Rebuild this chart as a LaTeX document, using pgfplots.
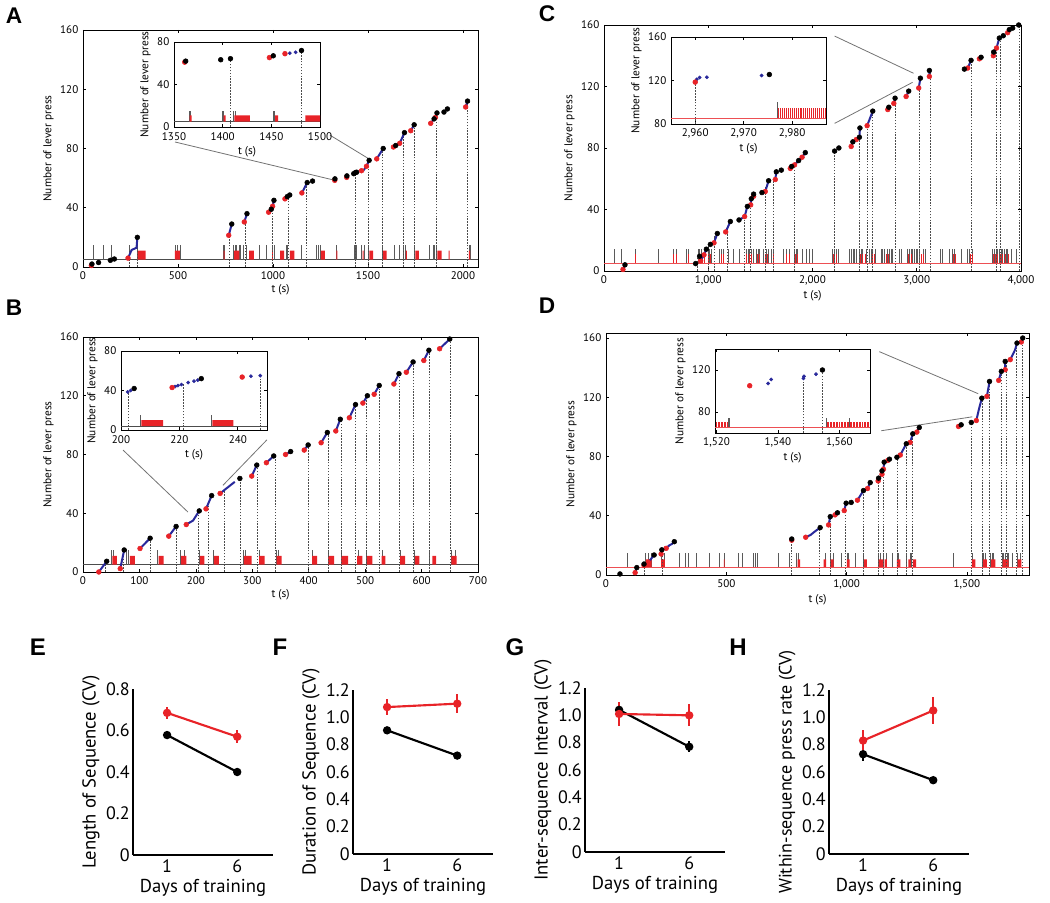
\documentclass[border=0pt]{standalone}
\usepackage{pgfplots}
\pgfplotsset{compat=1.18}
\usepackage{fontspec}
\setmainfont{PT Sans}
\newfontfamily\letterfont{Liberation Sans}
\definecolor{myred}{RGB}{232,35,40}
\definecolor{myblue}{RGB}{40,40,155}
\definecolor{rastc}{RGB}{90,90,90}
\pgfplotsset{
 /pgf/number format/assume math mode=true,
 mainax/.style={scale only axis, anchor=south west, axis line style={line width=0.7pt}, tick align=inside, major tick length=2.5pt, tick style={line width=0.5pt, black}, ticklabel style={font=\fontsize{8.3}{9}\selectfont}, label style={font=\fontsize{8.5}{9.5}\selectfont}, xlabel={t (s)}, ylabel={Number of lever press}, ymin=0, ytick={0,40,80,120,160}, xlabel style={yshift=3pt}, ylabel style={yshift=-2pt}},
 inset/.style={mainax, axis background/.style={fill=white}},
 rast/.style={rastc, no markers, line width=0.5pt, quiver={u=0,v=#1}},
 redtk/.style={myred, no markers, line width=0.5pt, quiver={u=0,v=#1}},
 rbar/.style={draw=none, fill=myred, unbounded coords=jump, no markers},
 seq/.style={myblue, line width=1.5pt, no markers, unbounded coords=jump},
 rdot/.style={only marks, mark=*, mark size=1.8pt, mark options={fill=myred, draw=myred}},
 bdot/.style={only marks, mark=*, mark size=1.8pt, mark options={fill=black, draw=black}},
 udot/.style={only marks, mark=*, mark size=1.2pt, mark options={fill=myblue, draw=myblue}},
 dash/.style={ycomb, no markers, black!70, line width=0.4pt, dash pattern=on 1.2pt off 1pt},
 base/.style={no markers, line width=0.6pt},
 conn/.style={no markers, black!55, line width=0.6pt},
 cvax/.style={scale only axis, anchor=south west, axis x line=bottom, axis y line=left, axis line style={line width=1.6pt, -}, xmin=-1.43, xmax=8.55, ymin=0, xtick={1,6}, major tick length=0pt, ticklabel style={font=\fontsize{13.5}{14}\selectfont}, label style={font=\fontsize{14}{15}\selectfont}, xlabel={Days of training}, width=105pt, clip=false, xlabel style={yshift=2pt}, ylabel style={yshift=-2pt}, yticklabel style={xshift=1pt}},
 cvred/.style={myred, line width=1.6pt, mark=*, mark size=2.3pt, error bars/.cd, y dir=both, y explicit, error bar style={line width=1.6pt}, error mark=none},
 cvblk/.style={black, line width=1.6pt, mark=*, mark size=2.3pt, error bars/.cd, y dir=both, y explicit, error bar style={line width=1.6pt}, error mark=none},
}
\begin{document}
\begin{tikzpicture}[x=0.75pt,y=0.75pt]
\path[use as bounding box] (0,0) rectangle (1050,903);

% ---------------- Panel A ----------------
\begin{axis}[mainax, at={(62.25pt,477pt)}, width=296.25pt, height=177.75pt, xmin=0, xmax=2079, ymax=160, xtick={0,500,1000,1500,2000}, /pgf/number format/1000 sep={}]
\addplot[base, black!70] coordinates {(0,5) (2079,5)};
\addplot[rast=10] table[row sep=\\, y expr=5]{x\\53\\105\\147\\245\\284\\485\\494\\511\\736\\743\\792\\800\\809\\823\\830\\844\\858\\928\\967\\998\\1005\\1068\\1075\\1151\\1229\\1238\\1247\\1334\\1426\\1432\\1440\\1466\\1480\\1502\\1576\\1637\\1667\\1685\\1694\\1743\\1825\\1842\\1851\\1860\\2031\\2038\\};
\addplot[rbar] table[row sep=\\]{x y\\
287 5\\330 5\\330 11\\287 11\\nan nan\\
484 5\\510 5\\510 11\\484 11\\nan nan\\
740 5\\745 5\\745 11\\740 11\\nan nan\\
795 5\\823 5\\823 11\\795 11\\nan nan\\
875 5\\900 5\\900 11\\875 11\\nan nan\\
995 5\\1000 5\\1000 11\\995 11\\nan nan\\
1037 5\\1058 5\\1058 11\\1037 11\\nan nan\\
1089 5\\1112 5\\1112 11\\1089 11\\nan nan\\
1252 5\\1273 5\\1273 11\\1252 11\\nan nan\\
1334 5\\1339 5\\1339 11\\1334 11\\nan nan\\
1472 5\\1477 5\\1477 11\\1472 11\\nan nan\\
1507 5\\1527 5\\1527 11\\1507 11\\nan nan\\
1580 5\\1598 5\\1598 11\\1580 11\\nan nan\\
1700 5\\1705 5\\1705 11\\1700 11\\nan nan\\
1750 5\\1768 5\\1768 11\\1750 11\\nan nan\\
1865 5\\1888 5\\1888 11\\1865 11\\nan nan\\
1925 5\\1930 5\\1930 11\\1925 11\\nan nan\\
2031 5\\2037 5\\2037 11\\2031 11\\};
\addplot[dash] table[row sep=\\]{x y\\245 11\\284 20\\770 21\\856 30\\998 40\\1080 48\\1173 55\\1432 63.5\\1502 72\\1576 80\\1688 90\\1741 95\\1860 103\\2021 111\\};
\addplot[seq] table[row sep=\\]{x y\\
237 6\\256 11.5\\282 13\\286 20\\nan nan\\
767 21.4\\783 29\\nan nan\\
849 30.4\\863 36\\nan nan\\
977 37\\991 39\\998 41\\1005 45\\nan nan\\
1063 46\\1088 48.6\\nan nan\\
1152 50\\1180 57\\nan nan\\
1475 65\\1492 68\\1506 72\\nan nan\\
1546 73\\1580 80\\nan nan\\
1634 81\\1646 82\\nan nan\\
1667 83.5\\1692 90.7\\nan nan\\
1725 92\\1743 96\\nan nan\\
1830 97\\1848 100\\1863 104\\nan nan\\
2014 108\\2024 112\\};
\addplot[rdot] table[row sep=\\]{x y\\44 1\\237 6\\767 21.4\\849 30.4\\977 37\\998 41\\1063 46\\1152 50\\1325 58.5\\1388 60.5\\1466 65\\1492 68\\1546 73\\1634 81\\1667 83.5\\1725 92\\1830 97\\1855 101\\2014 108\\};
\addplot[bdot] table[row sep=\\]{x y\\47 2\\82 3\\144 4.5\\165 5.4\\286 20\\783 29\\863 36\\991 39\\1005 45\\1075 47.5\\1088 48.6\\1180 57\\1208 58\\1326 59.5\\1389 61.5\\1425 63\\1434 63.7\\1440 64\\1506 72\\1580 80\\1646 82\\1692 90.7\\1743 96\\1848 100\\1863 104\\1900 104.6\\1918 106.7\\2024 112\\};
\addplot[conn] coordinates {(484,84.4) (1310,59)};
\addplot[conn] coordinates {(1300,89) (1505,73)};
\end{axis}

% inset A
\begin{axis}[inset, at={(130.5pt,582pt)}, width=109.5pt, height=63.75pt, xmin=1350, xmax=1500, ymin=0, ymax=80, xtick={1350,1400,1450,1500}, ytick={0,40,80}, /pgf/number format/1000 sep={}, xticklabel style={yshift=-1pt}]
\addplot[base, black!70] coordinates {(1350,5) (1500,5)};
\addplot[rast=10] table[row sep=\\, y expr=5]{x\\1366\\1367\\1400\\1401\\1411\\1413\\1452\\1453\\};
\addplot[rbar] table[row sep=\\]{x y\\
1366 5\\1368 5\\1368 11\\1366 11\\nan nan\\
1401 5\\1403 5\\1403 11\\1401 11\\nan nan\\
1412 5\\1428 5\\1428 11\\1412 11\\nan nan\\
1454 5\\1457 5\\1457 11\\1454 11\\nan nan\\
1485 5\\1500 5\\1500 11\\1485 11\\};
\addplot[dash] table[row sep=\\]{x y\\1408 64\\1481 72\\};
\addplot[udot] table[row sep=\\]{x y\\1469 69.5\\1475 70.3\\};
\addplot[rdot] table[row sep=\\]{x y\\1361 61\\1448 65.3\\1464 69\\};
\addplot[bdot] table[row sep=\\]{x y\\1362 62\\1398 63.3\\1408 64.3\\1452 67\\1481 72\\};
\end{axis}

% ---------------- Panel B ----------------
\begin{axis}[mainax, at={(62.25pt,248.25pt)}, width=296.25pt, height=176.25pt, xmin=0, xmax=700, ymax=160, xtick={0,100,...,700}]
\addplot[base, black!70] coordinates {(0,5) (700,5)};
\addplot[rast=10] table[row sep=\\, y expr=5]{x\\50\\53\\77\\81\\132\\172\\180\\206\\231\\284\\288\\313\\343\\347\\406\\435\\458\\488\\503\\530\\562\\588\\614\\652\\659\\};
\addplot[rbar] table[row sep=\\]{x y\\
52 5\\60 5\\60 11\\52 11\\nan nan\\
83 5\\92 5\\92 11\\83 11\\nan nan\\
134 5\\143 5\\143 11\\134 11\\nan nan\\
174 5\\183 5\\183 11\\174 11\\nan nan\\
207 5\\215 5\\215 11\\207 11\\nan nan\\
232 5\\241 5\\241 11\\232 11\\nan nan\\
285 5\\299 5\\299 11\\285 11\\nan nan\\
312 5\\322 5\\322 11\\312 11\\nan nan\\
343 5\\352 5\\352 11\\343 11\\nan nan\\
406 5\\415 5\\415 11\\406 11\\nan nan\\
435 5\\445 5\\445 11\\435 11\\nan nan\\
458 5\\470 5\\470 11\\458 11\\nan nan\\
486 5\\495 5\\495 11\\486 11\\nan nan\\
503 5\\513 5\\513 11\\503 11\\nan nan\\
529 5\\536 5\\536 11\\529 11\\nan nan\\
562 5\\571 5\\571 11\\562 11\\nan nan\\
588 5\\596 5\\596 11\\588 11\\nan nan\\
619 5\\626 5\\626 11\\619 11\\nan nan\\
653 5\\662 5\\662 11\\653 11\\};
\addplot[dash] table[row sep=\\]{x y\\40 7\\72 14\\119 23\\165 31\\204 41\\222 45\\250 55\\278 63\\308 72\\340 79\\399 86\\434 94\\457 103\\483 113\\502 119\\525 126\\561 134\\585 142\\614 150\\650 158\\};
\addplot[seq] table[row sep=\\]{x y\\
28 0\\42 7.3\\nan nan\\
66 2.3\\73 15\\nan nan\\
101 16\\119 23\\nan nan\\
152 24.4\\165 31\\nan nan\\
183 32.3\\195 35\\200 38\\206 41.6\\nan nan\\
218 43\\228 52\\nan nan\\
243 53.5\\269 61.4\\nan nan\\
299 65.3\\308 72.8\\nan nan\\
325 74.4\\338 79\\nan nan\\
359 80\\368 82\\nan nan\\
392 83\\399 86.5\\nan nan\\
422 88\\433 95\\nan nan\\
448 96\\456 104\\nan nan\\
472 105\\483 114\\nan nan\\
496 115\\504 120\\nan nan\\
516 121\\525 127\\nan nan\\
551 128\\560 135\\nan nan\\
573 136\\585 143\\nan nan\\
604 144\\613 151\\nan nan\\
632 152\\650 158.6\\};
\addplot[rdot] table[row sep=\\]{x y\\28 0\\66 2.3\\101 16\\152 24.4\\183 32.3\\218 43\\243 53.5\\299 65.3\\325 74.4\\359 80\\392 83\\422 88\\448 96\\472 105\\496 115\\516 121\\551 128\\573 136\\604 144\\632 152\\};
\addplot[bdot] table[row sep=\\]{x y\\42 7.3\\73 15\\119 23\\165 31\\206 41.6\\228 52\\278 63.7\\308 72.8\\338 79\\368 82\\399 86.5\\433 95\\456 104\\483 114\\504 120\\525 127\\560 135\\585 143\\613 151\\650 158.6\\};
\addplot[conn] coordinates {(71,83) (186,40.8)};
\addplot[conn] coordinates {(326,90) (248,59)};
\end{axis}

% inset B
\begin{axis}[inset, at={(90.75pt,354.75pt)}, width=109.5pt, height=59.25pt, xmin=200, xmax=250, ymin=0, ymax=80, xtick={200,220,240}, ytick={0,40,80}, xticklabel style={yshift=-1pt}]
\addplot[base, black!70] coordinates {(200,4) (250,4)};
\addplot[rast=11] table[row sep=\\, y expr=4]{x\\206.5\\230.8\\};
\addplot[rbar] table[row sep=\\]{x y\\
207 4\\214.4 4\\214.4 10\\207 10\\nan nan\\
231.3 4\\238.5 4\\238.5 10\\231.3 10\\};
\addplot[dash] table[row sep=\\]{x y\\202.5 38\\221.3 47\\247.7 55\\};
\addplot[udot] table[row sep=\\]{x y\\202.3 38.5\\203.3 40\\218.5 44\\219.5 45\\220.7 46\\223 48\\225 49.5\\226.3 50.5\\244.5 54.5\\247.7 55\\};
\addplot[rdot] table[row sep=\\]{x y\\217.5 43\\241.5 53.6\\};
\addplot[bdot] table[row sep=\\]{x y\\204.5 42\\227.5 52\\};
\end{axis}

% ---------------- Panel C ----------------
\begin{axis}[mainax, at={(453pt,474pt)}, width=312.75pt, height=184.5pt, xmin=0, xmax=4000, ymax=160, xtick={0,1000,...,4000}]
\addplot[rast=9.5] table[row sep=\\, y expr=5]{x\\96\\166\\304\\518\\668\\693\\789\\805\\901\\917\\933\\997\\1013\\1029\\1109\\1125\\1141\\1188\\1236\\1300\\1364\\1380\\1396\\1412\\1428\\1460\\1476\\1492\\1524\\1556\\1572\\1604\\1620\\1716\\1748\\1780\\1827\\1843\\1859\\1907\\1939\\1971\\2003\\2195\\2211\\2227\\2243\\2355\\2371\\2387\\2403\\2419\\2450\\2466\\2482\\2514\\2546\\2562\\2578\\2604\\2658\\2674\\2690\\2722\\2738\\2754\\2770\\2834\\2850\\2914\\2930\\2946\\2962\\2978\\2994\\3010\\3026\\3064\\3083\\3224\\3249\\3313\\3339\\3361\\3425\\3489\\3505\\3530\\3728\\3744\\3760\\3776\\3792\\3808\\3824\\3840\\3856\\3872\\3904\\3952\\};
\addplot[redtk=6] table[row sep=\\, y expr=5]{x\\304\\668\\693\\805\\917\\942\\965\\997\\1019\\1125\\1147\\1364\\1390\\1412\\1466\\1492\\1546\\1565\\1626\\1748\\1773\\1837\\1859\\2204\\2227\\2457\\2482\\2502\\2578\\2597\\2712\\2732\\2923\\2946\\3042\\3064\\3351\\3371\\3511\\3530\\3735\\3754\\3776\\3799\\3824\\3850\\3875\\};
\addplot[base, myred!80] coordinates {(0,5) (4000,5)};
\addplot[dash] table[row sep=\\]{x y\\895 9\\997 17\\1061 23\\1179 28\\1348 35\\1403 45\\1546 55\\1626 60\\1827 70\\2211 78\\2450 90\\2530 95\\2572 103\\2792 112\\3026 122\\3128 129\\3527 137\\3760 145\\3799 151\\3984 160\\};
\addplot[seq] table[row sep=\\]{x y\\
182 1\\201 4\\nan nan\\
927 6.6\\959 10.5\\982 14.2\\nan nan\\
1055 18.3\\1087 24.4\\nan nan\\
1167 25.4\\1212 32.2\\nan nan\\
1295 33.2\\1349 35.4\\1375 42\\1407 43\\1413 47\\1435 48.6\\1435 50\\nan nan\\
1547 51.7\\1579 58.7\\nan nan\\
1643 59.5\\1653 64.5\\nan nan\\
1787 66.7\\1828 69\\1867 71.8\\1900 74\\1931 77\\nan nan\\
2371 81\\2387 84\\2420 85.5\\2450 87\\2455 93\\nan nan\\
2524 94.5\\2578 104\\nan nan\\
2722 105\\2732 106.5\\nan nan\\
2780 109\\2792 112.4\\nan nan\\
2898 113.5\\2923 117\\nan nan\\
3019 119\\3035 125.4\\nan nan\\
3121 126.5\\3121 130.4\\nan nan\\
3489 132\\3521 137\\nan nan\\
3601 138\\3617 139\\nan nan\\
3735 140\\3738 142.4\\3765 145\\3792 151.5\\3830 153\\nan nan\\
3872 155\\3888 157\\};
\addplot[rdot] table[row sep=\\]{x y\\182 1\\927 6.6\\959 10.5\\1055 18.3\\1167 25.4\\1349 35.4\\1407 43\\1435 48.6\\1547 51.7\\1643 59.5\\1787 66.7\\1828 69\\1900 74\\2371 81\\2420 85.5\\2524 94.5\\2722 105\\2780 109\\2898 113.5\\3019 119\\3121 126.5\\3489 132\\3601 138\\3735 140\\3765 145\\3872 155\\};
\addplot[bdot] table[row sep=\\]{x y\\201 4\\879 4.8\\917 9.6\\982 14.2\\1020 17.3\\1087 24.4\\1212 32.2\\1295 33.2\\1375 42\\1413 47\\1435 50\\1515 51\\1579 58.7\\1653 64.5\\1701 65.6\\1800 68\\1867 71.8\\1931 77\\2212 78\\2253 80\\2387 84\\2450 87\\2455 93\\2578 104\\2732 106.5\\2792 112.4\\2923 117\\3035 125.4\\3121 130.4\\3457 131.3\\3521 137\\3617 139\\3738 142.4\\3792 151.5\\3830 153\\3888 157\\3920 158\\3978 160\\};
\addplot[conn] coordinates {(2212,152.8) (2969,128.6)};
\addplot[conn] coordinates {(2212,96) (2960,122.7)};
\end{axis}

% inset C
\begin{axis}[inset, at={(503.25pt,584.25pt)}, width=116.25pt, height=65.25pt, xmin=2955, xmax=2987, ymin=80, ymax=160, xtick={2960,2970,2980}, ytick={80,120,160}]
\addplot[redtk=9.5] table[row sep=\\, y expr=85.5]{x\\2977.2\\2977.6\\2978.0\\2978.4\\2978.8\\2979.2\\2979.6\\2980.0\\2980.4\\2980.8\\2981.2\\2981.6\\2982.0\\2982.4\\2982.8\\2983.2\\2983.6\\2984.0\\2984.4\\2984.8\\2985.2\\2985.6\\2986.0\\2986.4\\2986.8\\};
\addplot[rast=15] table[row sep=\\, y expr=85.5]{x\\2977.0\\};
\addplot[base, myred!80] coordinates {(2955,85.5) (2987,85.5)};
\addplot[dash] table[row sep=\\]{x y\\2960 118\\};
\addplot[udot] table[row sep=\\]{x y\\2960.3 121\\2960.9 122.7\\2962.4 123\\2973.7 124.6\\};
\addplot[rdot] table[row sep=\\]{x y\\2960 118.5\\};
\addplot[bdot] table[row sep=\\]{x y\\2975.3 125.5\\};
\end{axis}

% ---------------- Panel D ----------------
\begin{axis}[mainax, at={(454.5pt,246pt)}, width=317.25pt, height=181.5pt, xmin=0, xmax=1758, ymax=163.4, xtick={0,500,1000,1500}]
\addplot[rast=9.6] table[row sep=\\, y expr=5]{x\\89\\162\\176\\190\\229\\241\\305\\331\\342\\374\\430\\470\\491\\550\\568\\613\\620\\629\\717\\762\\793\\800\\911\\934\\946\\980\\1001\\1008\\1036\\1070\\1133\\1142\\1153\\1165\\1188\\1209\\1216\\1250\\1264\\1271\\1445\\1521\\1562\\1569\\1576\\1597\\1604\\1611\\1646\\1652\\1659\\1666\\1673\\1687\\1708\\1722\\};
\addplot[rbar] table[row sep=\\]{x y\\
166 5\\190 5\\190 10.6\\166 10.6\\nan nan\\
229 5\\245 5\\245 10.6\\229 10.6\\nan nan\\
490 5\\493 5\\493 10.6\\490 10.6\\nan nan\\
796 5\\807 5\\807 10.6\\796 10.6\\nan nan\\
904 5\\915 5\\915 10.6\\904 10.6\\nan nan\\
934 5\\946 5\\946 10.6\\934 10.6\\nan nan\\
1001 5\\1012 5\\1012 10.6\\1001 10.6\\nan nan\\
1073 5\\1084 5\\1084 10.6\\1073 10.6\\nan nan\\
1133 5\\1153 5\\1153 10.6\\1133 10.6\\nan nan\\
1158 5\\1167 5\\1167 10.6\\1158 10.6\\nan nan\\
1209 5\\1223 5\\1223 10.6\\1209 10.6\\nan nan\\
1257 5\\1267 5\\1267 10.6\\1257 10.6\\nan nan\\
1275 5\\1289 5\\1289 10.6\\1275 10.6\\nan nan\\
1521 5\\1535 5\\1535 10.6\\1521 10.6\\nan nan\\
1567 5\\1583 5\\1583 10.6\\1567 10.6\\nan nan\\
1601 5\\1618 5\\1618 10.6\\1601 10.6\\nan nan\\
1648 5\\1673 5\\1673 10.6\\1648 10.6\\nan nan\\
1711 5\\1726 5\\1726 10.6\\1711 10.6\\};
\addplot[base, myred!80] coordinates {(0,5) (1758,5)};
\addplot[dash] table[row sep=\\]{x y\\158 7\\232 16\\772 23\\886 31\\932 38\\994 46\\1070 56\\1133 64\\1151 74\\1209 79\\1246 87\\1271 93\\1518 102\\1562 118\\1594 129\\1643 136\\1662 143\\1705 155\\1729 159\\};
\addplot[seq] table[row sep=\\]{x y\\
121 1.6\\128 5\\nan nan\\
176 8.6\\200 13.5\\nan nan\\
250 18\\263 20\\275 21\\284 22.5\\nan nan\\
830 25.5\\850 27\\865 29\\890 32\\nan nan\\
925 33.8\\932 39.4\\nan nan\\
990 43.5\\998 48.5\\nan nan\\
1045 50.5\\1070 57\\nan nan\\
1087 58.4\\1098 62.4\\nan nan\\
1147 68\\1147 70.3\\nan nan\\
1153 71.4\\1156 76.2\\nan nan\\
1223 81\\1248 88.6\\nan nan\\
1264 89.5\\1275 95.3\\nan nan\\
1292 96.5\\1302 99.6\\nan nan\\
1539 104.3\\1550 112\\1562 119.4\\nan nan\\
1583 120.6\\1594 130.7\\nan nan\\
1632 131.4\\1643 137.5\\nan nan\\
1659 138.6\\1659 144.2\\nan nan\\
1680 145.4\\1700 152\\1708 156.6\\};
\addplot[rdot] table[row sep=\\]{x y\\121 1.6\\158 6.5\\176 8.6\\229 14.2\\250 18\\772 23.5\\830 25.5\\925 33.8\\952 40.6\\990 43.5\\1045 50.5\\1087 58.4\\1131 63.5\\1147 68\\1153 71.4\\1171 77.3\\1223 81\\1264 89.5\\1292 96.5\\1465 100.3\\1539 104.3\\1583 120.6\\1632 131.4\\1659 138.6\\1680 145.4\\1726 157.3\\};
\addplot[bdot] table[row sep=\\]{x y\\58 0.7\\128 5\\158 7.4\\200 13.5\\232 17\\284 22.5\\772 24.3\\890 32\\932 39.4\\962 42\\998 48.5\\1019 49\\1070 57\\1098 62.4\\1133 65.4\\1147 70.3\\1156 76.2\\1178 78.2\\1209 79.5\\1248 88.6\\1275 95.3\\1302 99.6\\1476 101.4\\1518 103\\1562 119.4\\1594 130.7\\1643 137.5\\1659 144.2\\1708 156.6\\1732 160\\};
\addplot[conn] coordinates {(1136,150.8) (1547,122.4)};
\addplot[conn] coordinates {(1144,97.4) (1522,106.8)};
\end{axis}

% inset D
\begin{axis}[inset, at={(536.25pt,352.5pt)}, width=116.25pt, height=63pt, xmin=1519.5, xmax=1570, ymin=60, ymax=140, xtick={1520,1540,1560}, ytick={80,120}]
\addplot[redtk=5.4] table[row sep=\\, y expr=65]{x\\1520\\1520.5\\1521\\1521.5\\1522\\1522.5\\1523\\1523.5\\1556\\1556.5\\1557\\1557.5\\1558\\1558.5\\1559\\1559.5\\1560\\1560.5\\1561\\1561.5\\1562\\1562.5\\1563\\1563.5\\1564\\1564.5\\1565\\1565.5\\1566\\1566.5\\1567\\1567.5\\1568\\1568.5\\1569\\1569.5\\};
\addplot[rast=9.5] table[row sep=\\, y expr=65]{x\\1523.9\\1524.2\\1555.8\\1563.4\\};
\addplot[base, myred!80] coordinates {(1519.5,65) (1570,65)};
\addplot[dash] table[row sep=\\]{x y\\1548.4 112\\1554.5 120\\};
\addplot[udot] table[row sep=\\]{x y\\1536.8 107.2\\1537.8 111\\1548.3 112\\1548.5 114\\1552.4 116\\};
\addplot[rdot] table[row sep=\\]{x y\\1530.8 105\\};
\addplot[bdot] table[row sep=\\]{x y\\1554.5 120\\};
\end{axis}

% ---------------- Panels E-H ----------------
\begin{axis}[cvax, at={(99.75pt,36pt)}, height=124.5pt, ymax=0.8, ytick={0,0.2,0.4,0.6,0.8}, yticklabels={0,0.2,0.4,0.6,0.8}, ylabel={Length of Sequence (CV)}]
\addplot[cvred] table[row sep=\\, y error=e]{x y e\\1 0.685 0.03\\6 0.57 0.03\\};
\addplot[cvblk] table[row sep=\\, y error=e]{x y e\\1 0.578 0.015\\6 0.40 0.015\\};
\end{axis}
\begin{axis}[cvax, at={(264.75pt,36.75pt)}, height=123pt, ymax=1.2, ytick={0,0.2,...,1.2}, yticklabels={0,0.2,0.4,0.6,0.8,1.0,1.2}, ylabel={Duration of Sequence (CV)}]
\addplot[cvred] table[row sep=\\, y error=e]{x y e\\1 1.075 0.06\\6 1.10 0.07\\};
\addplot[cvblk] table[row sep=\\, y error=e]{x y e\\1 0.905 0.02\\6 0.72 0.02\\};
\end{axis}
\begin{axis}[cvax, at={(438.75pt,38.25pt)}, height=123pt, ymax=1.2, ytick={0,0.2,...,1.2}, yticklabels={0,0.2,0.4,0.6,0.8,1.0,1.2}, ylabel={Inter-sequence Interval (CV)}]
\addplot[cvblk] table[row sep=\\, y error=e]{x y e\\1 1.04 0.03\\6 0.77 0.04\\};
\addplot[cvred] table[row sep=\\, y error=e]{x y e\\1 1.01 0.09\\6 1.0 0.08\\};
\end{axis}
\begin{axis}[cvax, at={(621.75pt,36.75pt)}, height=123pt, ymax=1.2, ytick={0,0.2,...,1.2}, yticklabels={0,0.2,0.4,0.6,0.8,1.0,1.2}, ylabel={Within-sequence press rate (CV)}, ylabel style={font=\fontsize{13.5}{14.5}\selectfont}]
\addplot[cvblk] table[row sep=\\, y error=e]{x y e\\1 0.73 0.05\\6 0.54 0.02\\};
\addplot[cvred] table[row sep=\\, y error=e]{x y e\\1 0.83 0.08\\6 1.05 0.1\\};
\end{axis}

% panel letters
\node[font=\letterfont\bfseries\fontsize{17}{18}\selectfont] at (14,887) {A};
\node[font=\letterfont\bfseries\fontsize{17}{18}\selectfont] at (14,595) {B};
\node[font=\letterfont\bfseries\fontsize{17}{18}\selectfont] at (547,889) {C};
\node[font=\letterfont\bfseries\fontsize{17}{18}\selectfont] at (547,597) {D};
\node[font=\letterfont\bfseries\fontsize{18}{19}\selectfont] at (38,256) {E};
\node[font=\letterfont\bfseries\fontsize{18}{19}\selectfont] at (280,256) {F};
\node[font=\letterfont\bfseries\fontsize{18}{19}\selectfont] at (515,256) {G};
\node[font=\letterfont\bfseries\fontsize{18}{19}\selectfont] at (738,256) {H};
\end{tikzpicture}
\end{document}
